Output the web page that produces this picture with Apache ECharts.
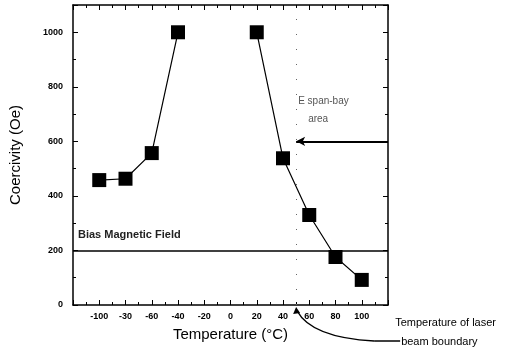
<!DOCTYPE html>
<html>
<head>
<meta charset="utf-8">
<script src="https://cdn.jsdelivr.net/npm/echarts@6/dist/echarts.min.js"></script>
<style>
  html, body { margin: 0; padding: 0; background: #fff; }
  #chart { width: 521px; height: 348px; }
</style>
</head>
<body>
<div id="chart"></div>
<script>
// data
var coldTemps = [-100, -80, -60, -40];
var coldCoercivity = [458, 463, 557, 1000];
var hotTemps = [20, 40, 60, 80, 100];
var hotCoercivity = [1000, 538, 330, 176, 92];
var biasField = 200;
var expandLevel = 600;
var boundaryTemp = 50;
var xTickValues = [-100, -80, -60, -40, -20, 0, 20, 40, 60, 80, 100];
var xTickLabels = ['-100', '-30', '-60', '-40', '-20', '0', '20', '40', '60', '80', '100'];
var yTickValues = [0, 200, 400, 600, 800, 1000];

function pairs(xs, ys) {
  return xs.map(function (x, i) { return [x, ys[i]]; });
}

var chart = echarts.init(document.getElementById('chart'));
var font = 'Liberation Sans, Arial, sans-serif';

var tickStyle = { show: true, inside: true, length: 5, lineStyle: { color: '#000', width: 1 } };
var minorStyle = { show: true, splitNumber: 2, length: 3, lineStyle: { color: '#000', width: 1 } };
var frameLine = { show: true, onZero: false, lineStyle: { color: '#000', width: 1.5 } };

var option = {
  animation: false,
  backgroundColor: '#fff',
  grid: { left: 69, right: 133, top: 5, bottom: 43 },
  xAxis: [
    {
      type: 'value', min: -120, max: 120, interval: 20,
      name: 'Temperature (\u00b0C)', nameLocation: 'middle', nameGap: 22,
      nameTextStyle: { fontFamily: font, fontSize: 15, color: '#000' },
      axisLine: frameLine,
      axisTick: tickStyle, minorTick: minorStyle,
      splitLine: { show: false },
      axisLabel: {
        margin: 7, fontFamily: font, fontSize: 9, fontWeight: 'bold', color: '#000',
        formatter: function (v) {
          var i = xTickValues.indexOf(v);
          return i < 0 ? '' : xTickLabels[i];
        }
      }
    },
    {
      type: 'value', min: -120, max: 120, interval: 20, position: 'top',
      axisLine: frameLine,
      axisTick: tickStyle, minorTick: minorStyle,
      axisLabel: { show: false }, splitLine: { show: false }
    }
  ],
  yAxis: [
    {
      type: 'value', min: 0, max: 1100, interval: 200,
      name: 'Coercivity (Oe)', nameLocation: 'middle', nameGap: 50,
      nameTextStyle: { fontFamily: font, fontSize: 15, color: '#000' },
      axisLine: frameLine,
      axisTick: tickStyle, minorTick: minorStyle,
      splitLine: { show: false },
      axisLabel: {
        margin: 10, fontFamily: font, fontSize: 9, fontWeight: 'bold', color: '#000',
        formatter: function (v) {
          return yTickValues.indexOf(v) < 0 ? '' : String(v);
        }
      }
    },
    {
      type: 'value', min: 0, max: 1100, interval: 200, position: 'right',
      axisLine: frameLine,
      axisTick: tickStyle, minorTick: minorStyle,
      axisLabel: { show: false }, splitLine: { show: false }
    }
  ],
  series: [
    {
      type: 'line', data: pairs(coldTemps, coldCoercivity),
      symbol: 'rect', symbolSize: 14,
      itemStyle: { color: '#000' }, lineStyle: { color: '#000', width: 1.2 },
      markLine: {
        silent: true, symbol: 'none', label: { show: false },
        data: [
          { yAxis: biasField, lineStyle: { color: '#000', width: 1.5, type: 'solid' } },
          { xAxis: boundaryTemp, lineStyle: { color: '#666', width: 1, type: [1, 14] } }
        ]
      }
    },
    {
      type: 'line', data: pairs(hotTemps, hotCoercivity),
      symbol: 'rect', symbolSize: 14,
      itemStyle: { color: '#000' }, lineStyle: { color: '#000', width: 1.2 },
      markLine: {
        silent: true, symbol: ['arrow', 'none'], symbolSize: [7, 9], label: { show: false },
        lineStyle: { color: '#000', width: 1.8, type: 'solid' },
        data: [[{ coord: [boundaryTemp, expandLevel] }, { coord: [120, expandLevel] }]]
      }
    }
  ]
};
chart.setOption(option);

// annotations positioned from the axes
var biasPt = chart.convertToPixel({ gridIndex: 0 }, [-120, biasField]);
var areaPt = chart.convertToPixel({ gridIndex: 0 }, [boundaryTemp, expandLevel]);
var basePt = chart.convertToPixel({ gridIndex: 0 }, [boundaryTemp, 0]);
var bx = basePt[0], by = basePt[1];

chart.setOption({
  graphic: [
    { type: 'text', left: biasPt[0] + 5, top: biasPt[1] - 21,
      style: { text: 'Bias Magnetic Field', font: 'bold 11px ' + font, fill: '#222' } },
    { type: 'text', left: areaPt[0] + 2, top: areaPt[1] - 45,
      style: { text: 'E span-bay', font: '10px ' + font, fill: '#555' } },
    { type: 'text', left: areaPt[0] + 12, top: areaPt[1] - 27,
      style: { text: 'area', font: '10px ' + font, fill: '#555' } },
    { type: 'bezierCurve',
      shape: { x1: bx + 1, y1: by + 6, cpx1: bx + 12, cpy1: by + 26, cpx2: bx + 40, cpy2: by + 34, x2: bx + 78, y2: by + 36 },
      style: { stroke: '#000', lineWidth: 1.5, fill: null } },
    { type: 'line', shape: { x1: bx + 78, y1: by + 36, x2: bx + 104, y2: by + 36 },
      style: { stroke: '#000', lineWidth: 1.5 } },
    { type: 'polygon', shape: { points: [[bx, by + 2], [bx - 3, by + 9], [bx + 4, by + 8]] },
      style: { fill: '#000' } },
    { type: 'text', left: bx + 99, top: by + 12,
      style: { text: 'Temperature of laser', font: '11px ' + font, fill: '#000' } },
    { type: 'text', left: bx + 105, top: by + 31,
      style: { text: 'beam boundary', font: '11px ' + font, fill: '#000' } }
  ]
});
</script>
</body>
</html>
